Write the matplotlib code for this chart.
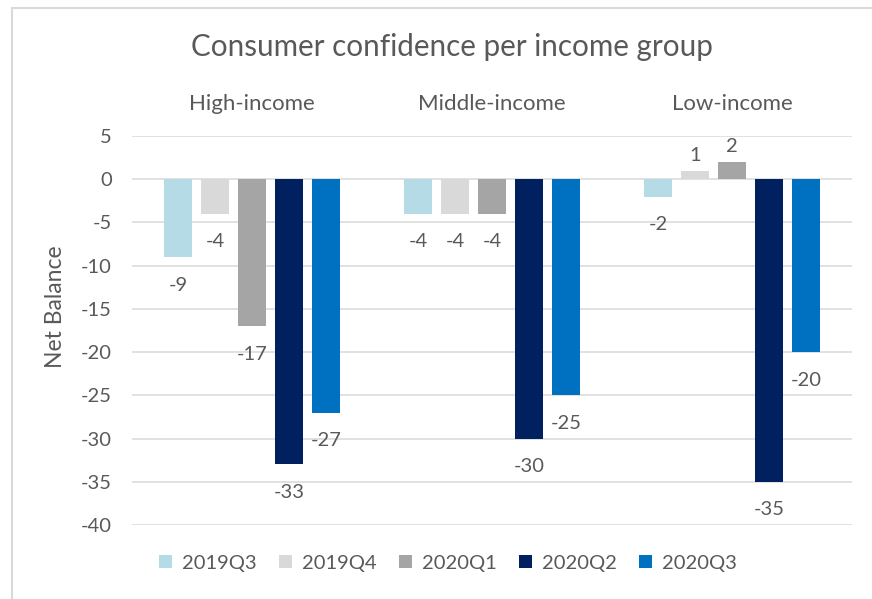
import matplotlib
matplotlib.use("Agg")
import matplotlib.pyplot as plt
from matplotlib.patches import Patch, Rectangle
import numpy as np

plt.rcParams['font.family'] = ['Lato', 'DejaVu Sans']

groups = ["High-income", "Middle-income", "Low-income"]
series = ["2019Q3", "2019Q4", "2020Q1", "2020Q2", "2020Q3"]
q2019q3 = [-9, -4, -2]
q2019q4 = [-4, -4, 1]
q2020q1 = [-17, -4, 2]
q2020q2 = [-33, -30, -35]
q2020q3 = [-27, -25, -20]
values = [q2019q3, q2019q4, q2020q1, q2020q2, q2020q3]
colors = ["#b4dbe6", "#d9d9d9", "#a5a5a5", "#002060", "#0070c0"]
yticks = [5, 0, -5, -10, -15, -20, -25, -30, -35, -40]

W, H = 872, 599
fig = plt.figure(figsize=(W / 100, H / 100), dpi=100)
ax = fig.add_axes([132 / W, 1 - 525 / H, (852 - 132) / W, (525 - 136) / H])

txt = "#595959"
x = np.arange(len(groups))
step = 0.154
bw = 0.117
for i, (s, v, c) in enumerate(zip(series, values, colors)):
    pos = x + (i - 2) * step
    bars = ax.bar(pos, v, width=bw, color=c, label=s, zorder=3)
    for b, val in zip(bars, v):
        off = 15 if val > 0 else -28
        ax.annotate(f"{val}", (b.get_x() + b.get_width() / 2, val),
                    xytext=(0, off * 0.72), textcoords="offset points",
                    ha="center", va="center", fontsize=14.5, color=txt)

ax.set_xlim(-0.5, 2.5)
ax.set_ylim(-40, 5)
ax.set_yticks(yticks)
ax.set_yticklabels([str(t) for t in yticks])
ax.tick_params(axis="y", length=0, pad=14.5, labelsize=14.5, labelcolor=txt)
ax.grid(axis="y", color="#d9d9d9", linewidth=1.1, zorder=0)
ax.set_axisbelow(True)
for sp in ax.spines.values():
    sp.set_visible(False)

ax.xaxis.set_ticks_position("top")
ax.set_xticks(x)
ax.set_xticklabels(groups)
ax.tick_params(axis="x", length=0, pad=16, labelsize=16, labelcolor=txt)

fig.text(452 / W, 1 - 47 / H, "Consumer confidence per income group",
         ha="center", va="center", fontsize=21.3, color=txt)
fig.text(55 / W, 1 - 307 / H, "Net Balance", rotation=90,
         ha="center", va="center", fontsize=16.5, color=txt)

handles = [Patch(facecolor=c, edgecolor="none") for c in colors]
fig.legend(handles, series, loc="center", bbox_to_anchor=(448 / W, 1 - 563 / H),
           ncol=5, frameon=False, fontsize=14.5, labelcolor=txt,
           handlelength=0.65, handleheight=0.65, handletextpad=0.5,
           columnspacing=1.1)

fig.patches.append(Rectangle((12 / W, -0.1), 1.2, (1 - 8 / H) + 0.1,
                             transform=fig.transFigure, fill=False,
                             edgecolor="#d9d9d9", linewidth=1.5))

fig.savefig("out.png", dpi=100)
